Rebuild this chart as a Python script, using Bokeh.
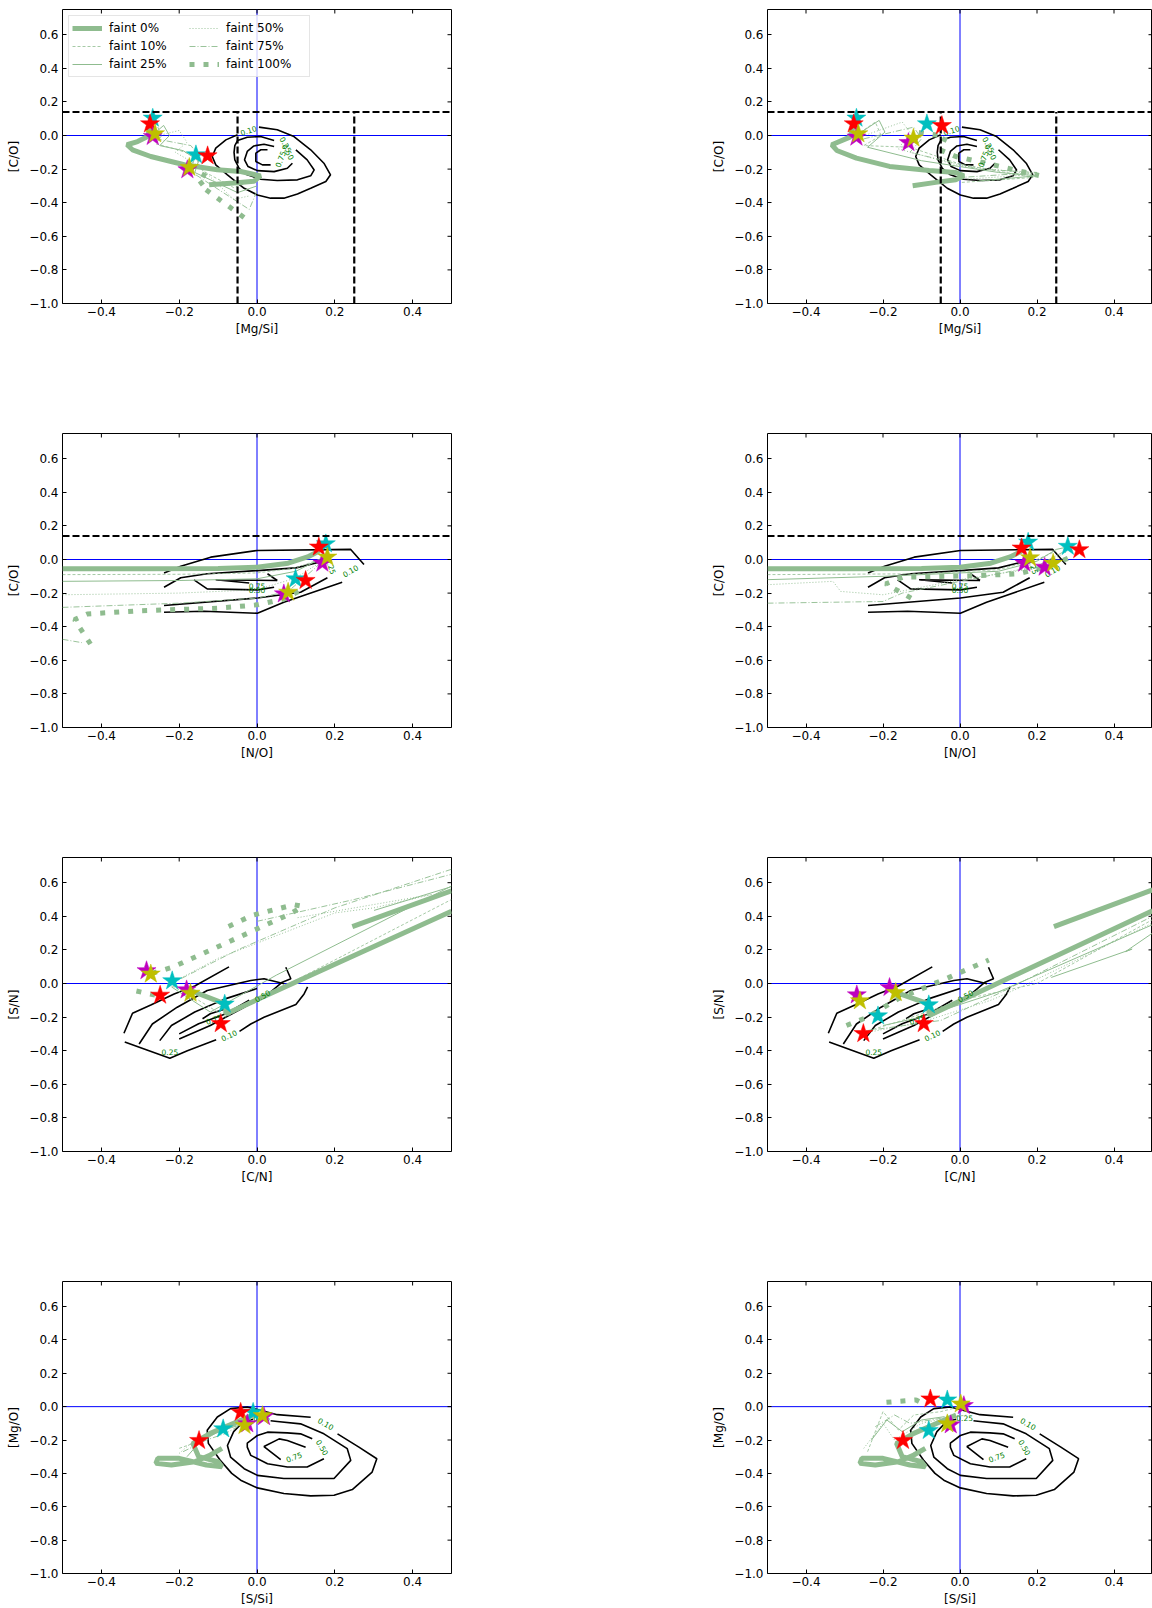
import math
from bokeh.plotting import figure
from bokeh.models import Range1d, FixedTicker, Span, Legend, LegendItem
from bokeh.layouts import column, row
from bokeh.embed import file_html
from bokeh.resources import INLINE
from bokeh.core.properties import value

# ---------------- axes ----------------
X_TICKS = [-0.4, -0.2, 0.0, 0.2, 0.4]
X_TICK_LABELS = ["\u22120.4", "\u22120.2", "0.0", "0.2", "0.4"]
Y_TICKS = [-1.0, -0.8, -0.6, -0.4, -0.2, 0.0, 0.2, 0.4, 0.6]
Y_TICK_LABELS = ["\u22121.0", "\u22120.8", "\u22120.6", "\u22120.4", "\u22120.2", "0.0", "0.2", "0.4", "0.6"]
X_RANGE = (-0.5, 0.5)
Y_RANGE = (-1.0, 0.75)

TRACK_NAMES = ["faint 0%", "faint 10%", "faint 25%", "faint 50%", "faint 75%", "faint 100%"]
CUT_CO = 0.14
CUT_MGSI = [-0.05, 0.25]

# ---------------- contours (levels 0.10, 0.25, 0.50, 0.75) ----------------
R1_C010 = [[(-0.050, 0.004), (-0.080, -0.026), (-0.106, -0.075), (-0.115, -0.125), (-0.106, -0.175), (-0.076, -0.234),
            (-0.033, -0.314), (0.001, -0.354), (0.035, -0.373), (0.069, -0.373), (0.104, -0.348), (0.138, -0.314),
            (0.177, -0.274), (0.189, -0.234), (0.172, -0.165), (0.138, -0.085), (0.095, -0.006), (0.052, 0.034), (0.005, 0.050)]]
R1_C025 = [[(0.044, -0.030), (0.009, -0.006), (-0.025, -0.010), (-0.050, -0.030), (-0.057, -0.060), (-0.059, -0.100),
            (-0.057, -0.145), (-0.046, -0.195), (-0.025, -0.234), (0.009, -0.260), (0.052, -0.268), (0.104, -0.264),
            (0.138, -0.240), (0.147, -0.205), (0.129, -0.145), (0.100, -0.085)]]
R1_C050 = [[(0.044, -0.066), (0.018, -0.052), (-0.008, -0.062), (-0.025, -0.095), (-0.032, -0.145), (-0.023, -0.185),
            (0.001, -0.209), (0.044, -0.215), (0.078, -0.195), (0.091, -0.165)]]
R1_C075 = [[(0.027, -0.085), (0.010, -0.085), (-0.003, -0.105), (-0.003, -0.155), (0.014, -0.175), (0.035, -0.175)]]
R1_CLABELS = [("0.10", -0.022, 0.030, 18), ("0.25", 0.074, -0.055, -62), ("0.50", 0.080, -0.098, -62), ("0.75", 0.060, -0.140, 70)]

R2_C010 = [[(-0.239, -0.080), (-0.196, -0.040), (-0.119, 0.014), (0.001, 0.054), (0.241, 0.060), (0.275, -0.030)],
           [(-0.239, -0.314), (-0.136, -0.308), (0.001, -0.320), (0.069, -0.254), (0.219, -0.135)]]
R2_C025 = [[(-0.239, -0.165), (-0.196, -0.109), (-0.128, -0.085), (0.001, -0.066), (0.100, -0.050), (0.170, -0.010)],
           [(-0.239, -0.274), (0.001, -0.229), (0.112, -0.195), (0.181, -0.109)]]
R2_C050 = [[(-0.162, -0.121), (-0.128, -0.175), (0.001, -0.181), (0.044, -0.165)],
           [(0.052, -0.125), (0.027, -0.085)]]
R2_C075 = [[(0.052, -0.125), (-0.106, -0.121), (-0.020, -0.140)]]
R2_CLABELS = [("0.75", 0.000, -0.160, 0), ("0.50", 0.000, -0.182, 0), ("0.25", 0.190, -0.040, -70), ("0.10", 0.240, -0.068, 30)]

R3_C010 = [[(-0.342, -0.296), (-0.320, -0.177), (-0.273, -0.128), (-0.213, -0.062), (-0.160, -0.015), (-0.072, 0.099)],
           [(0.130, -0.020), (0.121, -0.062), (0.100, -0.125), (0.018, -0.201), (-0.016, -0.241), (-0.045, -0.285)],
           [(-0.105, -0.335), (-0.179, -0.400), (-0.224, -0.445), (-0.340, -0.348)]]
R3_C025 = [[(-0.303, -0.360), (-0.269, -0.241), (-0.205, -0.141), (-0.128, -0.042), (-0.016, 0.018), (0.018, 0.028), (0.070, -0.002)],
           [(0.074, 0.097), (0.087, 0.028), (0.065, 0.008), (0.030, -0.060), (-0.040, -0.150), (-0.120, -0.250), (-0.200, -0.330)]]
R3_C050 = [[(-0.250, -0.340), (-0.220, -0.250), (-0.160, -0.170), (-0.080, -0.090), (0.000, -0.030)],
           [(-0.020, -0.100), (-0.080, -0.180), (-0.150, -0.240), (-0.200, -0.300)]]
R3_C075 = [[(-0.140, -0.210), (-0.120, -0.180), (-0.080, -0.150)]]
R3_CLABELS = [("0.50", 0.014, -0.074, 30), ("0.10", -0.072, -0.310, 25), ("0.25", -0.224, -0.406, 0), ("0.75", -0.111, -0.213, 20)]

R4_C010 = [[(0.138, -0.064), (0.052, -0.048), (-0.025, -0.002), (-0.068, -0.012), (-0.102, -0.062), (-0.128, -0.141),
            (-0.125, -0.220), (-0.095, -0.320), (-0.065, -0.400), (-0.042, -0.441), (0.001, -0.487), (0.069, -0.521),
            (0.138, -0.535), (0.198, -0.531), (0.245, -0.497), (0.296, -0.392), (0.308, -0.312), (0.262, -0.243), (0.207, -0.163)]]
R4_C025 = [[(-0.010, -0.075), (-0.035, -0.090), (-0.060, -0.150), (-0.076, -0.233), (-0.068, -0.302), (-0.033, -0.372),
            (0.001, -0.412), (0.069, -0.431), (0.198, -0.431), (0.241, -0.322), (0.232, -0.252), (0.172, -0.163),
            (0.112, -0.103), (0.052, -0.089), (0.035, -0.085)]]
R4_C050 = [[(0.142, -0.193), (0.112, -0.163), (0.078, -0.157), (0.027, -0.153), (0.001, -0.173), (-0.025, -0.219),
            (-0.025, -0.243), (-0.016, -0.292), (0.027, -0.342), (0.078, -0.362), (0.129, -0.362), (0.172, -0.312)]]
R4_C075 = [[(0.125, -0.243), (0.078, -0.203), (0.057, -0.193), (0.018, -0.239), (0.061, -0.318)]]
R4_CLABELS = [("0.10", 0.177, -0.103, -30), ("0.25", 0.012, -0.068, 0), ("0.50", 0.168, -0.245, -60), ("0.75", 0.095, -0.302, 20)]

# ---------------- model tracks ----------------
A1_F0 = [[(-0.273, 0.063), (-0.281, -0.006), (-0.307, -0.036), (-0.334, -0.055), (-0.320, -0.085), (-0.273, -0.125),
          (-0.187, -0.174), (-0.102, -0.204), (-0.042, -0.214), (0.009, -0.240), (-0.008, -0.273), (-0.059, -0.283), (-0.123, -0.293)]]
A1_F10 = [[(-0.270, 0.000), (-0.255, 0.050), (-0.245, 0.000), (-0.260, -0.050), (-0.210, -0.080), (-0.160, -0.120),
           (-0.140, -0.210), (-0.060, -0.310), (-0.010, -0.270)]]
A1_F25 = [[(-0.270, 0.000), (-0.240, 0.060), (-0.225, 0.000), (-0.250, -0.060), (-0.190, -0.090), (-0.150, -0.150),
           (-0.160, -0.220), (-0.050, -0.340), (0.000, -0.300)]]
A1_F50 = [[(-0.270, -0.010), (-0.200, 0.030), (-0.180, -0.040), (-0.210, -0.100), (-0.150, -0.180), (-0.060, -0.380), (-0.020, -0.360)]]
A1_F75 = [[(-0.260, -0.020), (-0.170, -0.060), (-0.150, -0.120), (-0.180, -0.200), (-0.100, -0.320), (-0.020, -0.440), (0.000, -0.330)]]
A1_F100 = [[(-0.174, -0.190), (-0.125, -0.250), (-0.149, -0.293), (-0.028, -0.497)]]

B1_F0 = [[(-0.277, 0.057), (-0.286, -0.010), (-0.333, -0.055), (-0.320, -0.089), (-0.269, -0.135), (-0.183, -0.184),
          (-0.080, -0.208), (-0.011, -0.220), (0.010, -0.240), (-0.011, -0.263), (-0.063, -0.279), (-0.123, -0.299)]]
B1_F10 = [[(-0.270, 0.000), (-0.220, 0.080), (-0.205, 0.000), (-0.250, -0.060), (-0.130, -0.070), (0.000, -0.170), (0.190, -0.250), (0.000, -0.280)]]
B1_F25 = [[(-0.270, 0.000), (-0.210, 0.090), (-0.195, 0.020), (-0.240, -0.070), (-0.100, -0.150), (0.100, -0.220), (0.200, -0.240), (0.050, -0.270)]]
B1_F50 = [[(-0.260, -0.010), (-0.150, 0.080), (-0.130, 0.020), (-0.160, -0.080), (0.000, -0.180), (0.200, -0.230), (0.020, -0.260)]]
B1_F75 = [[(-0.250, -0.020), (-0.120, 0.050), (-0.100, -0.020), (-0.130, -0.100), (0.050, -0.200), (0.200, -0.220), (0.000, -0.250)]]
B1_F100 = [[(-0.107, 0.018), (-0.037, -0.006), (-0.052, -0.085), (-0.011, -0.125), (0.066, -0.164), (0.205, -0.238)]]

A2_F0 = [[(-0.500, -0.055), (-0.300, -0.055), (-0.100, -0.053), (0.000, -0.046), (0.080, -0.022), (0.130, 0.015), (0.160, 0.050)]]
A2_F10 = [[(-0.500, -0.090), (-0.200, -0.088), (0.000, -0.080), (0.100, -0.050), (0.160, 0.000), (0.170, 0.040)]]
A2_F25 = [[(-0.500, -0.130), (-0.200, -0.125), (0.000, -0.115), (0.100, -0.070), (0.160, 0.000), (0.180, 0.040)]]
A2_F50 = [[(-0.500, -0.210), (-0.200, -0.200), (0.000, -0.180), (0.100, -0.110), (0.160, -0.020), (0.180, 0.030)]]
A2_F75 = [[(-0.500, -0.285), (-0.200, -0.260), (0.000, -0.230), (0.080, -0.190), (0.150, -0.050), (0.180, 0.020)],
          [(-0.500, -0.475), (-0.450, -0.495)]]
A2_F100 = [[(-0.428, -0.503), (-0.469, -0.358), (-0.436, -0.324), (-0.300, -0.305), (-0.100, -0.290), (0.000, -0.270),
            (0.069, -0.235), (0.108, -0.189)]]

B2_F0 = [[(-0.500, -0.055), (-0.300, -0.055), (-0.100, -0.053), (0.000, -0.046), (0.080, -0.022), (0.130, 0.015), (0.160, 0.050)]]
B2_F10 = [[(-0.500, -0.090), (-0.100, -0.085), (0.100, -0.060), (0.200, 0.000), (0.250, 0.050)]]
B2_F25 = [[(-0.500, -0.120), (-0.200, -0.100), (0.100, -0.070), (0.200, -0.010), (0.250, 0.060), (0.270, 0.070)]]
B2_F50 = [[(-0.500, -0.150), (-0.330, -0.130), (-0.310, -0.190), (-0.200, -0.210), (0.000, -0.120), (0.200, -0.050), (0.280, 0.050)]]
B2_F75 = [[(-0.500, -0.260), (-0.200, -0.250), (-0.150, -0.200), (0.000, -0.130), (0.200, -0.040), (0.280, 0.060)]]
B2_F100 = [[(-0.127, -0.230), (-0.193, -0.145), (-0.148, -0.105), (0.040, -0.097), (0.152, -0.085), (0.220, -0.046), (0.289, 0.014)]]

A3_F0 = [[(-0.179, -0.034), (-0.081, -0.123), (-0.080, -0.181), (0.500, 0.430)], [(0.245, 0.338), (0.500, 0.552)]]
A3_F10 = [[(-0.230, 0.000), (-0.150, -0.100), (-0.080, -0.200), (0.000, -0.100), (0.500, 0.500)]]
A3_F25 = [[(-0.220, -0.020), (-0.120, -0.170), (0.050, 0.050), (0.500, 0.580)], [(0.301, 0.435), (0.498, 0.575)]]
A3_F50 = [[(-0.230, -0.010), (-0.100, 0.150), (0.200, 0.420), (0.300, 0.450), (0.450, 0.530), (0.100, 0.390)]]
A3_F75 = [[(-0.220, 0.000), (-0.050, 0.200), (0.200, 0.450), (0.500, 0.680)], [(0.000, 0.370), (0.250, 0.500), (0.500, 0.650)]]
A3_F100 = [[(-0.310, -0.045), (-0.250, -0.075)],
           [(-0.270, 0.060), (-0.217, 0.097), (-0.050, 0.272), (0.087, 0.416), (0.117, 0.459), (0.095, 0.469), (-0.012, 0.406), (-0.080, 0.332)]]

B3_F0 = [[(-0.165, -0.054), (-0.080, -0.123), (-0.080, -0.190), (0.500, 0.433)], [(0.244, 0.338), (0.500, 0.557)]]
B3_F10 = [[(-0.250, -0.290), (-0.150, -0.220), (0.000, -0.100), (0.200, 0.000), (0.500, 0.380)]]
B3_F25 = [[(-0.200, -0.250), (-0.100, -0.200), (0.100, -0.050), (0.500, 0.350)], [(0.237, 0.036), (0.447, 0.205), (0.430, 0.190), (0.500, 0.300)]]
B3_F50 = [[(-0.260, -0.300), (-0.100, -0.230), (0.080, -0.100), (0.150, -0.030), (0.500, 0.360)]]
B3_F75 = [[(-0.240, -0.280), (-0.050, -0.220), (0.100, -0.060), (0.500, 0.400)]]
B3_F100 = [[(-0.295, -0.250), (-0.240, -0.200), (-0.160, -0.090), (-0.030, 0.035), (0.075, 0.140)]]

A4_F0 = [[(-0.010, -0.050), (-0.060, -0.100), (-0.120, -0.160), (-0.165, -0.220), (-0.150, -0.300), (-0.100, -0.330),
          (-0.090, -0.360), (-0.130, -0.350), (-0.200, -0.310), (-0.255, -0.310), (-0.260, -0.340), (-0.220, -0.350),
          (-0.160, -0.330), (-0.120, -0.290), (-0.090, -0.250)]]
A4_F10 = [[(-0.200, -0.250), (-0.140, -0.200), (-0.090, -0.130), (-0.040, -0.100), (0.000, -0.060)]]
A4_F25 = [[(-0.180, -0.300), (-0.150, -0.220), (-0.100, -0.150), (-0.030, -0.100)]]
A4_F50 = [[(-0.200, -0.280), (-0.170, -0.220), (-0.120, -0.170), (-0.050, -0.110)]]
A4_F75 = [[(-0.190, -0.270), (-0.130, -0.200), (-0.080, -0.160), (-0.020, -0.080)]]
A4_F100 = []

B4_F0 = [[(-0.010, -0.050), (-0.060, -0.100), (-0.120, -0.160), (-0.165, -0.220), (-0.150, -0.300), (-0.100, -0.330),
          (-0.090, -0.360), (-0.130, -0.350), (-0.200, -0.310), (-0.255, -0.310), (-0.260, -0.340), (-0.220, -0.350),
          (-0.160, -0.330), (-0.120, -0.290), (-0.090, -0.250)]]
B4_F10 = [[(-0.240, -0.270), (-0.200, -0.030), (-0.160, -0.140), (-0.120, -0.050), (-0.050, -0.030), (0.000, 0.000)]]
B4_F25 = [[(-0.230, -0.200), (-0.190, -0.080), (-0.150, -0.150), (-0.100, -0.080), (-0.040, -0.060)]]
B4_F50 = [[(-0.250, -0.250), (-0.200, -0.100), (-0.170, -0.200), (-0.100, -0.100), (0.000, -0.050)]]
B4_F75 = [[(-0.220, -0.120), (-0.170, -0.050), (-0.130, -0.100), (-0.050, -0.070), (0.020, -0.050)]]
B4_F100 = [[(-0.191, 0.026), (-0.114, 0.040), (-0.093, 0.016)]]

# ---------------- stars (cyan, red, magenta, yellow) ----------------
A1_STARS = {"c": [(-0.268, 0.103), (-0.157, -0.115)], "r": [(-0.275, 0.069), (-0.127, -0.121)],
            "m": [(-0.268, -0.006), (-0.179, -0.204)], "y": [(-0.262, 0.010), (-0.174, -0.190)]}
B1_STARS = {"c": [(-0.269, 0.103), (-0.086, 0.069)], "r": [(-0.276, 0.069), (-0.047, 0.059)],
            "m": [(-0.269, -0.010), (-0.134, -0.042)], "y": [(-0.264, 0.010), (-0.121, -0.016)]}
A2_STARS = {"c": [(0.177, 0.093), (0.099, -0.115)], "r": [(0.159, 0.074), (0.125, -0.125)],
            "m": [(0.168, -0.022), (0.069, -0.205)], "y": [(0.181, 0.014), (0.080, -0.195)]}
B2_STARS = {"c": [(0.177, 0.103), (0.280, 0.078)], "r": [(0.160, 0.068), (0.310, 0.058)],
            "m": [(0.167, -0.022), (0.220, -0.046)], "y": [(0.182, 0.010), (0.242, -0.022)]}
A3_STARS = {"c": [(-0.218, 0.016), (-0.083, -0.123)], "r": [(-0.249, -0.070), (-0.093, -0.239)],
            "m": [(-0.284, 0.076), (-0.181, -0.038)], "y": [(-0.273, 0.056), (-0.171, -0.058)]}
B3_STARS = {"c": [(-0.213, -0.193), (-0.081, -0.127)], "r": [(-0.251, -0.298), (-0.094, -0.239)],
            "m": [(-0.268, -0.068), (-0.183, -0.024)], "y": [(-0.260, -0.103), (-0.167, -0.054)]}
A4_STARS = {"c": [(-0.010, -0.034), (-0.087, -0.133)], "r": [(-0.042, -0.034), (-0.149, -0.203)],
            "m": [(0.018, -0.060), (-0.025, -0.103)], "y": [(0.014, -0.054), (-0.032, -0.113)]}
B4_STARS = {"c": [(-0.033, 0.040), (-0.081, -0.143)], "r": [(-0.077, 0.046), (-0.148, -0.203)],
            "m": [(0.010, 0.006), (-0.024, -0.109)], "y": [(0.002, 0.016), (-0.033, -0.103)]}

# ---------------- styles ----------------
GREEN = "#8fbc8f"
STAR_COLORS = {"c": "#00bfbf", "r": "#ff0000", "m": "#bf00bf", "y": "#bfbf00"}
TRACK_STYLE = {
    "faint 0%": dict(line_width=5, line_dash="solid"),
    "faint 10%": dict(line_width=0.8, line_dash="3 2"),
    "faint 25%": dict(line_width=1.0, line_dash="solid"),
    "faint 50%": dict(line_width=0.9, line_dash="1 2"),
    "faint 75%": dict(line_width=0.9, line_dash="6 2 1 2"),
    "faint 100%": dict(line_width=5, line_dash="5 9"),
}
FONT = "DejaVu Sans"


def seg_xy(segs):
    return [[pt[0] for pt in s] for s in segs], [[pt[1] for pt in s] for s in segs]


def make_panel(xlabel, ylabel, right_side, last_row, contours, clabels, tracks, stars,
               hcut=None, vcuts=None, legend=False):
    p = figure(width=443 if right_side else 709, height=336 if last_row else 424,
               x_range=Range1d(*X_RANGE), y_range=Range1d(*Y_RANGE),
               output_backend="svg", toolbar_location=None,
               min_border_left=54 if right_side else 62, min_border_right=0 if right_side else 258,
               min_border_top=9, min_border_bottom=33 if last_row else 121)
    p.grid.visible = False
    p.outline_line_color = "black"
    p.outline_line_width = 1
    p.background_fill_color = "white"
    p.border_fill_color = "white"
    for ax, ticks, labels in ((p.xaxis[0], X_TICKS, X_TICK_LABELS), (p.yaxis[0], Y_TICKS, Y_TICK_LABELS)):
        ax.ticker = FixedTicker(ticks=ticks)
        ax.major_label_overrides = {t: l for t, l in zip(ticks, labels)}
        ax.axis_line_color = None
        ax.major_tick_in = 4
        ax.major_tick_out = 0
        ax.major_tick_line_color = "black"
        ax.minor_tick_line_color = None
        ax.major_label_text_font = FONT
        ax.major_label_text_font_size = "12px"
        ax.major_label_text_color = "black"
        ax.axis_label_text_font = FONT
        ax.axis_label_text_font_size = "12px"
        ax.axis_label_text_font_style = "normal"
        ax.axis_label_text_color = "black"
    p.xaxis.axis_label = xlabel
    p.yaxis.axis_label = ylabel
    p.xaxis.major_label_standoff = 3
    p.xaxis.axis_label_standoff = 3
    p.yaxis.major_label_standoff = 4
    p.yaxis.axis_label_standoff = 5

    # inward ticks on the top and right spines (half of each dash is clipped by the frame)
    p.scatter(X_TICKS, [Y_RANGE[1]] * len(X_TICKS), marker="dash", size=8, angle=math.pi / 2,
              line_color="black", line_width=1)
    p.scatter([X_RANGE[1]] * len(Y_TICKS), Y_TICKS, marker="dash", size=8,
              line_color="black", line_width=1)

    p.add_layout(Span(location=0, dimension="width", line_color="blue", line_width=1, level="underlay"))
    p.add_layout(Span(location=0, dimension="height", line_color="blue", line_width=1, level="underlay"))

    for level_segs in contours:
        xs, ys = seg_xy(level_segs)
        p.multi_line(xs, ys, line_color="black", line_width=1.6)

    items = []
    for name, segs in zip(TRACK_NAMES, tracks):
        if not segs:
            continue
        xs, ys = seg_xy(segs)
        r = p.multi_line(xs, ys, line_color=GREEN, line_cap="butt", **TRACK_STYLE[name])
        items.append(LegendItem(label=name, renderers=[r]))

    if hcut is not None:
        p.add_layout(Span(location=hcut, dimension="width", line_color="black", line_width=2.2, line_dash="7 3"))
    if vcuts:
        p.segment(x0=vcuts, y0=[Y_RANGE[0]] * len(vcuts), x1=vcuts, y1=[hcut] * len(vcuts),
                  line_color="black", line_width=2.2, line_dash="7 3")

    p.text(x=[c[1] for c in clabels], y=[c[2] for c in clabels], text=[c[0] for c in clabels],
           angle=[c[3] for c in clabels], angle_units="deg", text_color="#008000",
           text_font=value(FONT), text_font_size="7.5px", text_align="center", text_baseline="middle")

    for key in ("c", "r", "m", "y"):
        pts = stars[key]
        p.scatter([pt[0] for pt in pts], [pt[1] for pt in pts], marker="star", size=20,
                  fill_color=STAR_COLORS[key], line_color=STAR_COLORS[key], line_width=0.5)

    if legend:
        lg = Legend(items=items, location="top_left", orientation="vertical", nrows=3,
                    label_text_font=FONT, label_text_font_size="12px", label_text_color="black",
                    label_height=18, label_width=80, glyph_height=18, glyph_width=30, label_standoff=7,
                    spacing=0, padding=3, margin=6,
                    border_line_color="#cccccc", border_line_width=1, background_fill_alpha=0.8)
        p.add_layout(lg)
    return p


A1 = make_panel("[Mg/Si]", "[C/O]", False, False, [R1_C010, R1_C025, R1_C050, R1_C075], R1_CLABELS,
                [A1_F0, A1_F10, A1_F25, A1_F50, A1_F75, A1_F100], A1_STARS, CUT_CO, CUT_MGSI, legend=True)
B1 = make_panel("[Mg/Si]", "[C/O]", True, False, [R1_C010, R1_C025, R1_C050, R1_C075], R1_CLABELS,
                [B1_F0, B1_F10, B1_F25, B1_F50, B1_F75, B1_F100], B1_STARS, CUT_CO, CUT_MGSI)
A2 = make_panel("[N/O]", "[C/O]", False, False, [R2_C010, R2_C025, R2_C050, R2_C075], R2_CLABELS,
                [A2_F0, A2_F10, A2_F25, A2_F50, A2_F75, A2_F100], A2_STARS, CUT_CO)
B2 = make_panel("[N/O]", "[C/O]", True, False, [R2_C010, R2_C025, R2_C050, R2_C075], R2_CLABELS,
                [B2_F0, B2_F10, B2_F25, B2_F50, B2_F75, B2_F100], B2_STARS, CUT_CO)
A3 = make_panel("[C/N]", "[S/N]", False, False, [R3_C010, R3_C025, R3_C050, R3_C075], R3_CLABELS,
                [A3_F0, A3_F10, A3_F25, A3_F50, A3_F75, A3_F100], A3_STARS)
B3 = make_panel("[C/N]", "[S/N]", True, False, [R3_C010, R3_C025, R3_C050, R3_C075], R3_CLABELS,
                [B3_F0, B3_F10, B3_F25, B3_F50, B3_F75, B3_F100], B3_STARS)
A4 = make_panel("[S/Si]", "[Mg/O]", False, True, [R4_C010, R4_C025, R4_C050, R4_C075], R4_CLABELS,
                [A4_F0, A4_F10, A4_F25, A4_F50, A4_F75, A4_F100], A4_STARS)
B4 = make_panel("[S/Si]", "[Mg/O]", True, True, [R4_C010, R4_C025, R4_C050, R4_C075], R4_CLABELS,
                [B4_F0, B4_F10, B4_F25, B4_F50, B4_F75, B4_F100], B4_STARS)

layout = column(row(A1, B1), row(A2, B2), row(A3, B3), row(A4, B4))
open("out.html", "w").write(file_html(layout, INLINE))
